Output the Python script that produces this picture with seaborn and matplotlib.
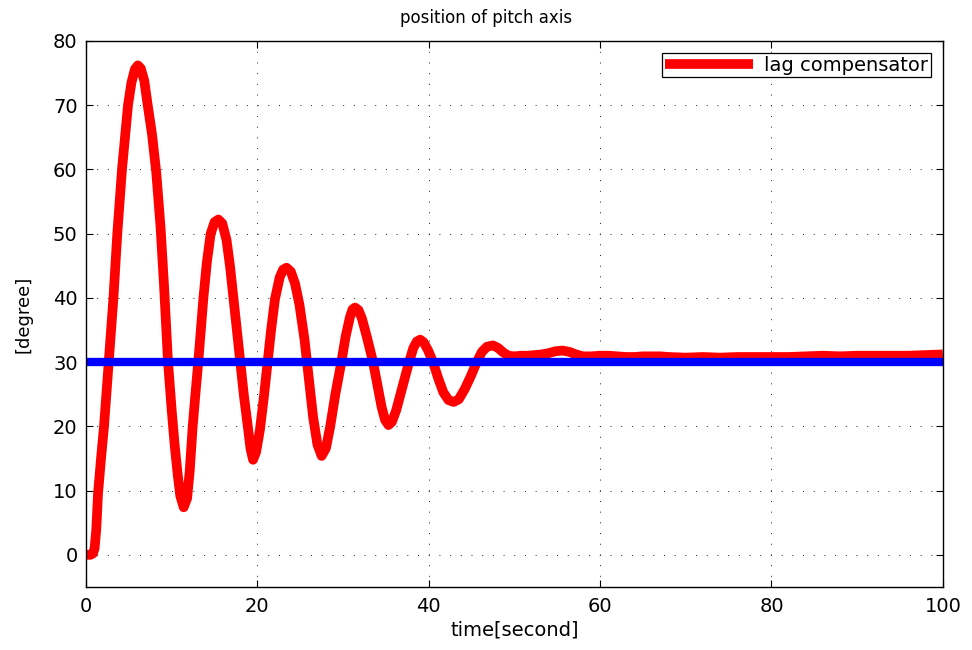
"""Pitch axis step response with a lag compensator (MATLAB-style figure)."""

import matplotlib

matplotlib.use("Agg")
import matplotlib.pyplot as plt
import pandas as pd
import seaborn as sns

# values
TIME = [
    0.0, 0.5, 0.8, 1.0, 1.2, 1.4, 1.75, 2.1, 2.65, 3.2, 3.65, 4.2, 4.9, 5.3, 5.7,
    6.05, 6.4, 6.8, 7.2, 7.7, 8.2, 8.7, 9.1, 9.57, 10.0, 10.35, 10.7, 11.0, 11.4,
    11.8, 12.1, 12.45, 12.8, 13.1, 13.7, 14.1, 14.55, 15.0, 15.45, 15.9, 16.4,
    16.8, 17.2, 17.6, 18.0, 18.45, 18.9, 19.2, 19.5, 19.85, 20.3, 20.75, 21.2,
    21.6, 22.05, 22.6, 23.0, 23.4, 23.9, 24.4, 24.9, 25.5, 26.0, 26.5, 27.0, 27.5,
    28.0, 28.5, 29.1, 29.8, 30.3, 30.8, 31.1, 31.4, 31.8, 32.2, 32.8, 33.5,
    34.0, 34.5, 34.9, 35.3, 35.7, 36.2, 37.0, 37.7, 38.2, 38.6, 39.0, 39.4,
    39.9, 40.5, 41.1, 41.7, 42.3, 42.9, 43.5, 44.2, 44.9, 45.6, 46.2, 46.8,
    47.5, 48.1, 48.7, 49.3, 50.0, 50.8, 51.6, 52.4, 53.2, 54.0, 54.8, 55.6,
    56.4, 57.2, 58.0, 59.0, 60.0, 61.0, 62.0, 63.0, 64.0, 65.0, 66.0, 67.0,
    68.0, 70.0, 72.0, 74.0, 76.0, 78.0, 80.0, 82.0, 84.0, 86.0, 88.0, 90.0,
    92.0, 94.0, 96.0, 98.0, 100.0,
]
PITCH = [
    0.0, 0.0, 0.2, 1.0, 4.0, 9.5, 15.0, 20.0, 30.0, 40.0, 50.0, 60.0, 70.0, 73.5, 75.6,
    76.2, 75.7, 73.8, 70.0, 65.5, 59.5, 51.0, 42.0, 30.0, 22.5, 17.0, 12.5, 9.2, 7.4,
    8.8, 13.0, 20.0, 25.5, 30.0, 40.0, 45.5, 50.0, 51.8, 52.2, 51.6, 49.0,
    45.0, 40.0, 35.0, 30.0, 24.5, 19.8, 16.5, 14.8, 16.0, 19.5, 24.5, 30.0,
    35.0, 39.8, 43.2, 44.4, 44.7, 44.1, 42.2, 39.0, 33.5, 27.5, 21.5, 17.2, 15.4,
    16.6, 20.0, 25.0, 30.0, 34.0, 37.0, 38.2, 38.5, 38.1, 36.8, 33.8, 30.0,
    26.5, 23.0, 21.0, 20.2, 20.7, 22.5, 26.5, 30.0, 32.2, 33.2, 33.5, 33.1,
    31.9, 30.0, 27.5, 25.3, 24.1, 23.8, 24.2, 25.8, 27.8, 30.0, 31.6, 32.4,
    32.6, 32.2, 31.5, 31.0, 30.9, 31.0, 31.0, 31.1, 31.2, 31.4, 31.7, 31.8,
    31.6, 31.2, 30.9, 30.9, 31.0, 31.0, 30.9, 30.8, 30.8, 30.9, 30.9, 30.9,
    30.8, 30.7, 30.8, 30.7, 30.8, 30.8, 30.8, 30.8, 30.9, 31.0, 30.9, 31.0,
    31.0, 31.0, 31.0, 31.1, 31.2,
]
REF_TIME = [0, 100]
REF_PITCH = [30, 30]

X_TICKS = [0, 20, 40, 60, 80, 100]
Y_TICKS = [0, 10, 20, 30, 40, 50, 60, 70, 80]


def main() -> None:
    sns.set_theme(style="white")
    plt.rcParams["font.family"] = ["DejaVu Sans"]
    plt.rcParams["text.color"] = "black"
    plt.rcParams["axes.labelcolor"] = "black"

    df = pd.DataFrame({"time": TIME, "pitch": PITCH})
    ref = pd.DataFrame({"time": REF_TIME, "pitch": REF_PITCH})

    fig, ax = plt.subplots(figsize=(9.72, 6.5), dpi=100)
    fig.subplots_adjust(left=0.0885, right=0.970, bottom=0.097, top=0.937)

    sns.lineplot(data=df, x="time", y="pitch", ax=ax, color="#ff0000",
                 linewidth=7.0, estimator=None, sort=False,
                 solid_joinstyle="round", solid_capstyle="butt")
    sns.lineplot(data=ref, x="time", y="pitch", ax=ax, color="#0000ff",
                 linewidth=6.0, estimator=None, sort=False)

    ax.set_xlim(0, 100)
    ax.set_ylim(-5, 80)
    ax.set_xticks(X_TICKS)
    ax.set_yticks(Y_TICKS)
    ax.tick_params(direction="in", length=5, width=0.8, top=True, right=True,
                   bottom=True, left=True, colors="black", labelsize=14)
    ax.tick_params(axis="x", pad=7)
    ax.tick_params(axis="y", pad=6)
    ax.grid(True, color="#222222", linestyle=(0, (1, 10)), linewidth=0.7)
    for spine in ax.spines.values():
        spine.set_color("black")
        spine.set_linewidth(1.0)

    ax.set_xlabel("time[second]", fontsize=14, color="black")
    ax.set_ylabel("[degree]", fontsize=13, color="black")
    ax.xaxis.set_label_coords(0.5, -0.062)
    ax.yaxis.set_label_coords(-0.062, 0.5)
    ax.text(0.467, 1.033, "position of pitch axis", transform=ax.transAxes,
            ha="center", va="baseline", fontsize=12, color="black")

    leg = ax.legend(handles=[ax.lines[0]], labels=["lag compensator"],
                    loc="upper right", fontsize=14, frameon=True, fancybox=False,
                    edgecolor="black", framealpha=1, borderpad=0.15,
                    borderaxespad=0.6, handlelength=4.5, handletextpad=0.6)
    leg.get_frame().set_linewidth(0.9)
    for txt in leg.get_texts():
        txt.set_color("black")

    fig.savefig("out.png", dpi=100)
    plt.close(fig)


if __name__ == "__main__":
    main()
